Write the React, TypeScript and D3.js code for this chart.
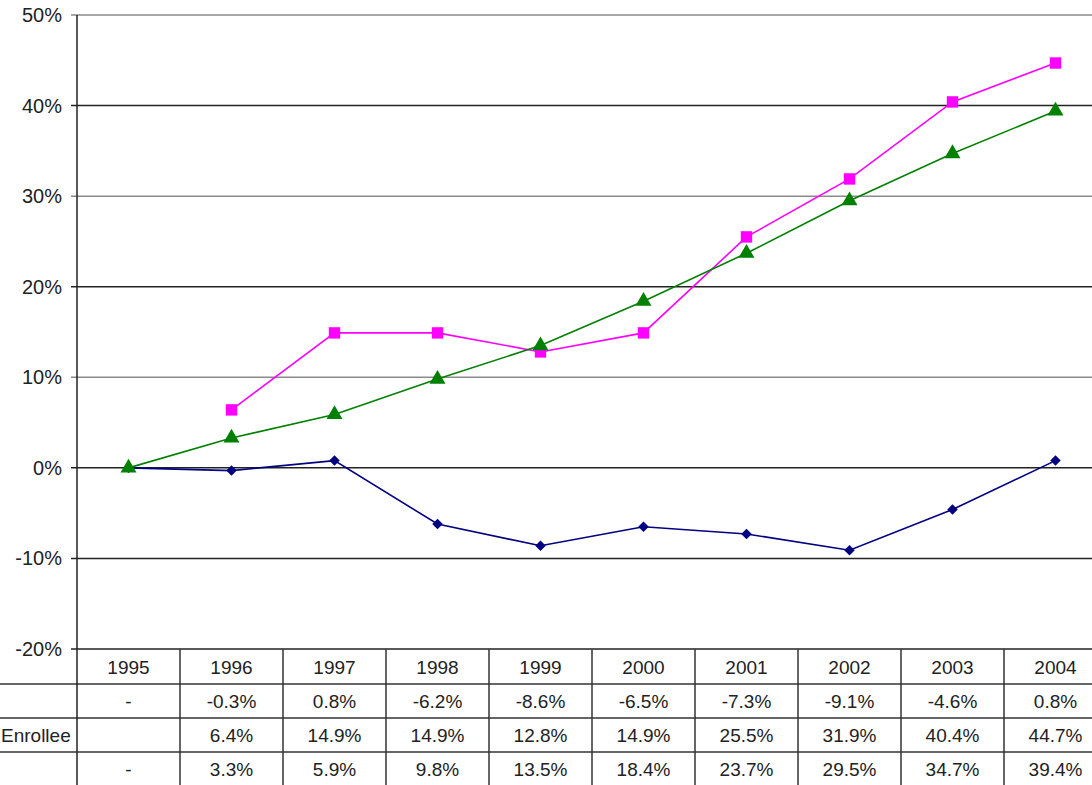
import React, { useRef, useEffect } from "react";
import * as d3 from "d3";

const years = ["1995", "1996", "1997", "1998", "1999", "2000", "2001", "2002", "2003", "2004"];
const navySeries = [0, -0.3, 0.8, -6.2, -8.6, -6.5, -7.3, -9.1, -4.6, 0.8];
const magentaSeries = [null, 6.4, 14.9, 14.9, 12.8, 14.9, 25.5, 31.9, 40.4, 44.7];
const greenSeries = [0, 3.3, 5.9, 9.8, 13.5, 18.4, 23.7, 29.5, 34.7, 39.4];
const yTicks = [50, 40, 30, 20, 10, 0, -10, -20];
const rowLabels = ["", "Enrollee", ""];
const firstCell = ["-", "", "-"];

const W = 1092;
const H = 785;

const App = () => {
  const ref = useRef<SVGSVGElement>(null);

  useEffect(() => {
    const svg = d3.select(ref.current);
    svg.selectAll("*").remove();

    const x = d3.scaleBand().domain(years).range([77, 1107]).padding(0);
    const y = d3.scaleLinear().domain([-20, 50]).range([649, 15]);
    const cx = (d: string) => (x(d) as number) + x.bandwidth() / 2;
    const font = "'Liberation Sans', Arial, sans-serif";

    svg.append("rect").attr("width", W).attr("height", H).attr("fill", "#fff");

    // gridlines + ticks
    svg.selectAll("line.grid")
      .data(yTicks)
      .enter()
      .append("line")
      .attr("x1", 71)
      .attr("x2", W)
      .attr("y1", (d) => y(d))
      .attr("y2", (d) => y(d))
      .attr("stroke", (d) => (d === 50 || d === 30 || d === 10 ? "#8a8a8a" : "#222"))
      .attr("stroke-width", 1.5);

    svg.selectAll("text.ytick")
      .data(yTicks)
      .enter()
      .append("text")
      .attr("x", 62)
      .attr("y", (d) => y(d))
      .attr("dy", "0.35em")
      .attr("text-anchor", "end")
      .style("font-family", font)
      .style("font-size", "20px")
      .style("fill", "#222")
      .text((d) => `${d}%`);

    // table rows
    const rowLines = [684, 718, 752];
    svg.selectAll("line.row")
      .data(rowLines)
      .enter()
      .append("line")
      .attr("x1", 0)
      .attr("x2", W)
      .attr("y1", (d) => d)
      .attr("y2", (d) => d)
      .attr("stroke", "#333")
      .attr("stroke-width", 1.5);

    // vertical lines: axis + band boundaries
    const vx = years.map((d) => x(d) as number);
    svg.append("line")
      .attr("x1", 77).attr("x2", 77).attr("y1", 15).attr("y2", H)
      .attr("stroke", "#222").attr("stroke-width", 1.5);
    svg.selectAll("line.col")
      .data(vx.slice(1))
      .enter()
      .append("line")
      .attr("x1", (d) => d)
      .attr("x2", (d) => d)
      .attr("y1", 649)
      .attr("y2", H)
      .attr("stroke", "#333")
      .attr("stroke-width", 1.5);

    const rowMid = [667, 701, 735, 769];
    const fmt = (v: number | null) => (v === null ? "" : `${v.toFixed(1)}%`);

    svg.selectAll("text.year")
      .data(years)
      .enter()
      .append("text")
      .attr("x", cx)
      .attr("y", rowMid[0])
      .attr("dy", "0.35em")
      .attr("text-anchor", "middle")
      .style("font-family", font)
      .style("font-size", "19px")
      .style("fill", "#222")
      .text((d) => d);

    const rows = [navySeries, magentaSeries, greenSeries];
    rows.forEach((vals, r) => {
      svg.selectAll(`text.cell${r}`)
        .data(years)
        .enter()
        .append("text")
        .attr("x", cx)
        .attr("y", rowMid[r + 1])
        .attr("dy", "0.35em")
        .attr("text-anchor", "middle")
        .style("font-family", font)
        .style("font-size", "19px")
        .style("fill", "#222")
        .text((d, i) => (i === 0 ? firstCell[r] : fmt(vals[i])));
      svg.append("text")
        .attr("x", 1)
        .attr("y", rowMid[r + 1])
        .attr("dy", "0.35em")
        .attr("text-anchor", "start")
        .style("font-family", font)
        .style("font-size", "19px")
        .style("fill", "#222")
        .text(rowLabels[r]);
    });

    // series
    const series = [
      { vals: navySeries, color: "#000080", symbol: d3.symbolSquare, size: 55, rotate: 45 },
      { vals: magentaSeries, color: "#ff00ff", symbol: d3.symbolSquare, size: 130, rotate: 0 },
      { vals: greenSeries, color: "#008000", symbol: d3.symbolTriangle, size: 110, rotate: 0 },
    ];

    series.forEach((s) => {
      const pts = years
        .map((d, i) => ({ year: d, v: s.vals[i] }))
        .filter((p) => p.v !== null) as { year: string; v: number }[];
      const line = d3.line<{ year: string; v: number }>()
        .x((p) => cx(p.year))
        .y((p) => y(p.v));
      svg.append("path")
        .datum(pts)
        .attr("d", line)
        .attr("fill", "none")
        .attr("stroke", s.color)
        .attr("stroke-width", 1.6);
      svg.selectAll(null)
        .data(pts)
        .enter()
        .append("path")
        .attr("d", d3.symbol().type(s.symbol).size(s.size)())
        .attr("transform", (p) => `translate(${cx(p.year)},${y(p.v)}) rotate(${s.rotate})`)
        .attr("fill", s.color);
    });
  }, []);

  return (
    <div style={{ position: "absolute", left: 0, top: 0 }}>
      <svg ref={ref} width={W} height={H} style={{ display: "block" }}></svg>
    </div>
  );
};

export default App;
